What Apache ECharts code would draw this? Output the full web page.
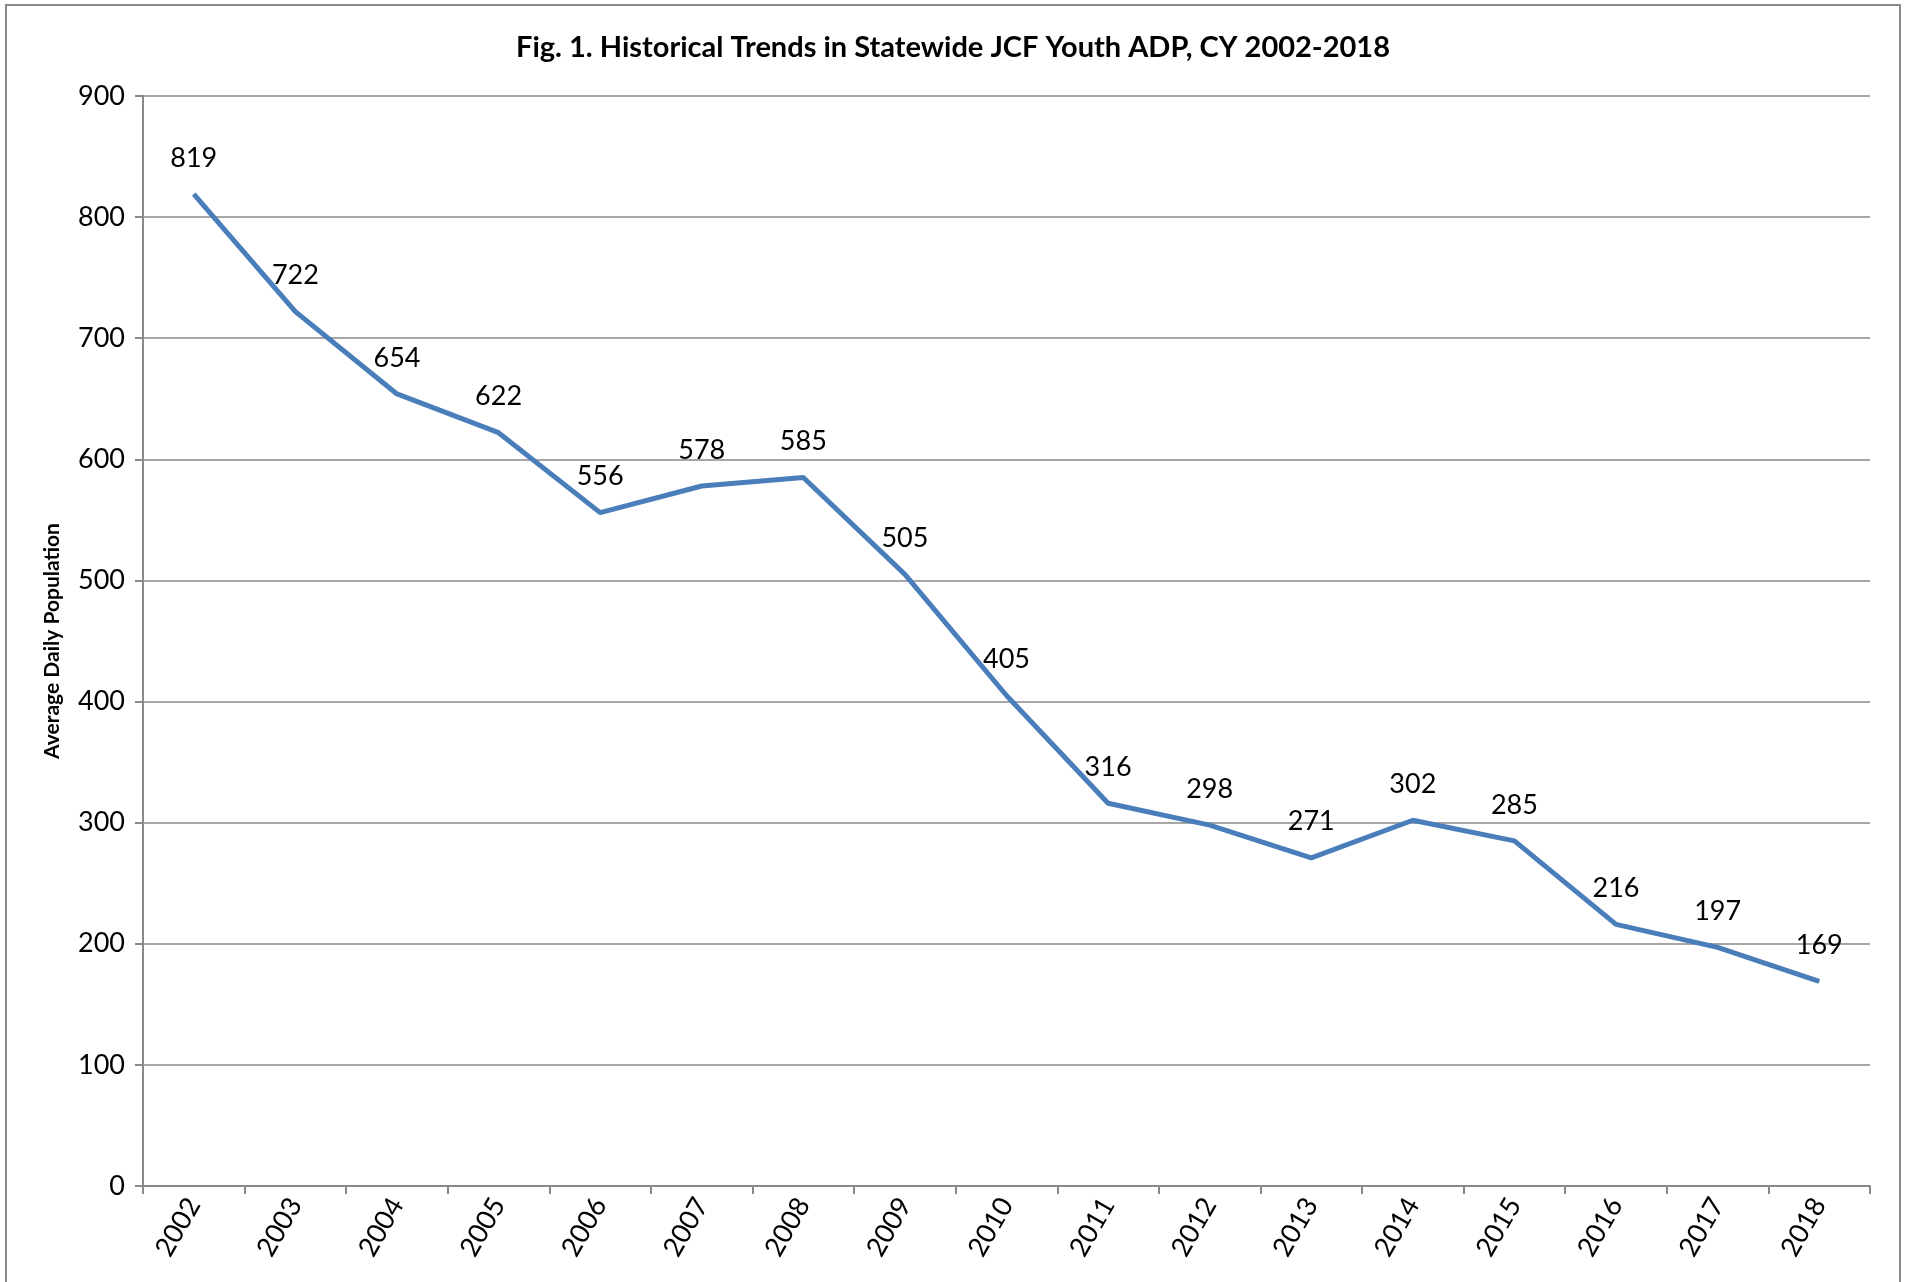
<!DOCTYPE html>
<html>
<head>
<meta charset="utf-8">
<script src="https://cdn.jsdelivr.net/npm/echarts@6/dist/echarts.min.js"></script>
<style>
  html, body { margin: 0; padding: 0; background: #fff; }
  #chart { width: 1906px; height: 1282px; }
</style>
</head>
<body>
<div id="chart"></div>
<script>
// data
var years = ['2002', '2003', '2004', '2005', '2006', '2007', '2008', '2009', '2010',
  '2011', '2012', '2013', '2014', '2015', '2016', '2017', '2018'];
var adp = [819, 722, 654, 622, 556, 578, 585, 505, 405, 316, 298, 271, 302, 285, 216, 197, 169];
var yTicks = { min: 0, max: 900, interval: 100 };

var chart = echarts.init(document.getElementById('chart'));
var font = 'Lato, "Open Sans", sans-serif';
var gray = '#898989';

var option = {
  backgroundColor: '#fff',
  animation: false,
  textStyle: { fontFamily: font },
  title: {
    text: 'Fig. 1. Historical Trends in Statewide JCF Youth ADP, CY 2002-2018',
    left: 'center',
    top: 28,
    textStyle: { fontFamily: font, fontSize: 29, fontWeight: 'bold', color: '#000' }
  },
  // outer chart border like the spreadsheet frame
  graphic: [{
    type: 'rect',
    shape: { x: 6, y: 5, width: 1894, height: 1300 },
    style: { fill: 'none', stroke: '#8a8a8a', lineWidth: 2 },
    silent: true
  }],
  grid: { left: 143, right: 36, top: 96, bottom: 96, containLabel: false },
  xAxis: {
    type: 'category',
    data: years,
    boundaryGap: true,
    axisLine: { lineStyle: { color: gray, width: 2 } },
    axisTick: { show: true, length: 8, lineStyle: { color: gray, width: 2 } },
    axisLabel: { rotate: 60, fontSize: 27, color: '#000', margin: 14, fontFamily: font }
  },
  yAxis: {
    type: 'value',
    min: yTicks.min,
    max: yTicks.max,
    interval: yTicks.interval,
    name: 'Average Daily Population',
    nameLocation: 'middle',
    nameGap: 80,
    nameTextStyle: { fontSize: 21, fontWeight: 'bold', color: '#000', fontFamily: font },
    axisLine: { show: true, lineStyle: { color: gray, width: 2 } },
    axisTick: { show: true, length: 8, lineStyle: { color: gray, width: 2 } },
    axisLabel: { fontSize: 27, color: '#000', margin: 18, fontFamily: font },
    splitLine: { lineStyle: { color: gray, width: 1.5 } }
  },
  series: [{
    type: 'line',
    data: adp,
    symbol: 'circle',
    symbolSize: 1,
    showSymbol: true,
    lineStyle: { color: '#4a7ebb', width: 5 },
    itemStyle: { color: '#4a7ebb' },
    label: {
      show: true,
      position: 'top',
      distance: 22,
      fontSize: 27,
      color: '#000',
      fontFamily: font
    },
    labelLayout: { hideOverlap: false }
  }]
};

chart.setOption(option);
</script>
</body>
</html>
